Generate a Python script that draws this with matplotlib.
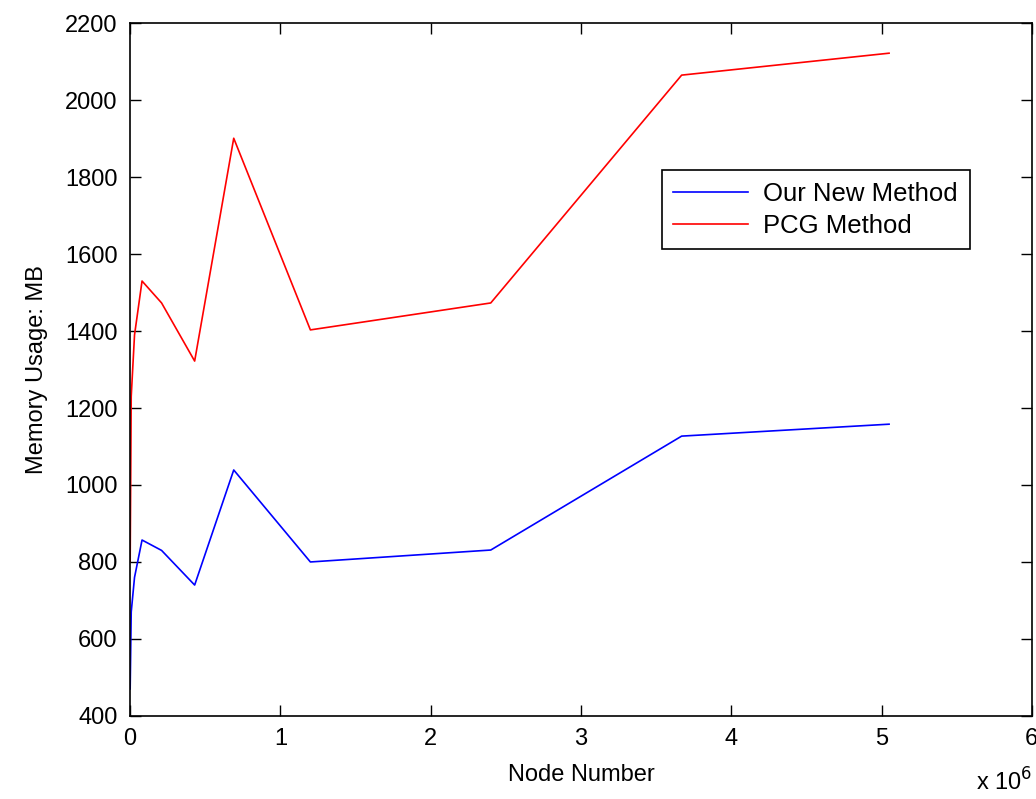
import numpy as np
import matplotlib.pyplot as plt

plt.rcParams['font.family'] = ['Liberation Sans', 'DejaVu Sans']

node_number = [1000, 8000, 30000, 80000, 210000, 430000, 690000, 1200000, 2400000, 3670000, 5050000]
our_method = [470, 670, 760, 857, 830, 740, 1039, 800, 831, 1127, 1158]
pcg_method = [800, 1230, 1390, 1530, 1473, 1322, 1901, 1403, 1473, 2065, 2122]

fig = plt.figure(figsize=(10.36, 7.99), dpi=100)
ax = fig.add_axes([0.1255, 0.104, 0.8705, 0.867])

ax.plot(node_number, our_method, color='#0000ff', lw=1.2, label='Our New Method')
ax.plot(node_number, pcg_method, color='#ff0000', lw=1.2, label='PCG Method')

ax.set_xlim(0, 6e6)
ax.set_ylim(400, 2200)
ax.set_xticks(np.arange(0, 7) * 1e6)
ax.set_xticklabels([str(i) for i in range(7)])
ax.set_yticks(np.arange(400, 2201, 200))

ax.tick_params(direction='in', length=8, width=1, labelsize=17, top=True, right=True, pad=9)
for s in ax.spines.values():
    s.set_linewidth(1.2)

ax.set_xlabel('Node Number', fontsize=17, labelpad=10)
ax.set_ylabel('Memory Usage: MB', fontsize=17, labelpad=12)
ax.text(1.0, -0.095, r'x 10$^6$', transform=ax.transAxes, ha='right', va='center', fontsize=17)

leg = ax.legend(loc='upper left', bbox_to_anchor=(0.5755, 0.806), fontsize=18.5, fancybox=False,
                edgecolor='black', framealpha=1, handlelength=2.9, handletextpad=0.6,
                borderpad=0.45, labelspacing=0.3)
leg.get_frame().set_linewidth(1.2)

fig.savefig('out.png', dpi=100)
